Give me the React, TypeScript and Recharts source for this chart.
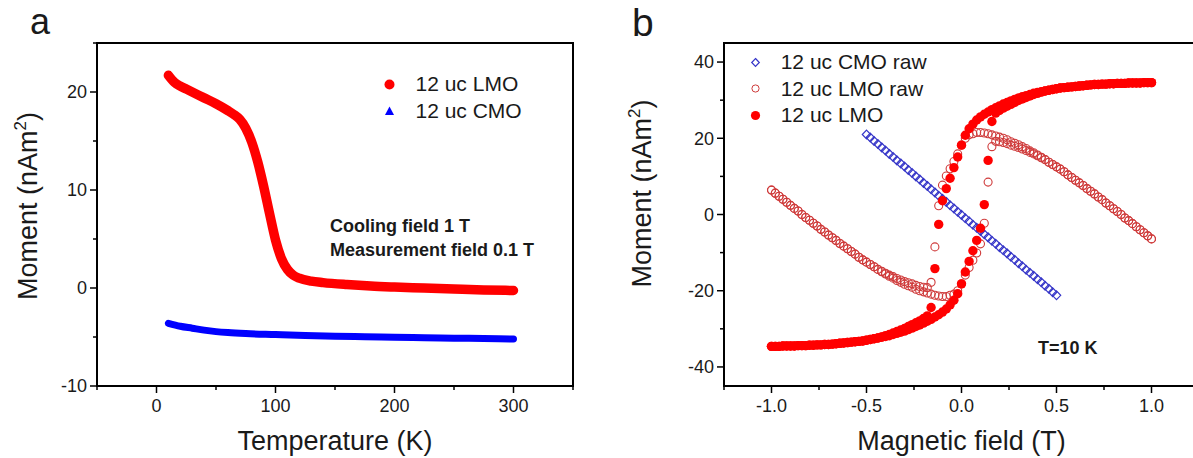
import React from 'react'
import { ComposedChart, ScatterChart, Line, Scatter, XAxis, YAxis, ReferenceArea, Legend, Label } from 'recharts'

// panel a: moment vs temperature (cooling field 1 T, measured in 0.1 T)
const tempLMO = [10, 15, 20, 25, 30, 40, 50, 60, 65, 70, 75, 80, 85, 90, 95, 100, 105, 110, 115, 120, 130, 140, 160, 180, 200, 225, 250, 275, 300]
const momentLMO = [21.7, 21.0, 20.6, 20.3, 20.0, 19.4, 18.8, 18.1, 17.7, 17.2, 16.3, 14.9, 12.9, 10.4, 7.6, 4.9, 3.0, 1.9, 1.3, 1.0, 0.7, 0.55, 0.35, 0.2, 0.1, 0.0, -0.1, -0.2, -0.25]
const tempCMO = [10, 20, 30, 40, 50, 60, 75, 100, 125, 150, 175, 200, 225, 250, 275, 300]
const momentCMO = [-3.6, -3.9, -4.1, -4.3, -4.45, -4.55, -4.65, -4.75, -4.85, -4.92, -4.98, -5.03, -5.08, -5.12, -5.16, -5.2]

const tempTicks = [-50, 0, 50, 100, 150, 200, 250, 300, 350]
const tempLabels = [0, 100, 200, 300]
const momentTicksA = [-10, -5, 0, 5, 10, 15, 20, 25]
const momentLabelsA = [-10, 0, 10, 20]

// panel b: hysteresis loops at 10 K (down = sweep from +1 T, up = sweep from -1 T)
const field = [
  -1.0, -0.98, -0.96, -0.94, -0.92, -0.9, -0.88, -0.86, -0.84, -0.82,
  -0.8, -0.78, -0.76, -0.74, -0.72, -0.7, -0.68, -0.66, -0.64, -0.62,
  -0.6, -0.58, -0.56, -0.54, -0.52, -0.5, -0.48, -0.46, -0.44, -0.42,
  -0.4, -0.38, -0.36, -0.34, -0.32, -0.3, -0.28, -0.26, -0.24, -0.22,
  -0.2, -0.18, -0.16, -0.14, -0.12, -0.1, -0.08, -0.06, -0.04, -0.02,
  0.0, 0.02, 0.04, 0.06, 0.08, 0.1, 0.12, 0.14, 0.16, 0.18,
  0.2, 0.22, 0.24, 0.26, 0.28, 0.3, 0.32, 0.34, 0.36, 0.38,
  0.4, 0.42, 0.44, 0.46, 0.48, 0.5, 0.52, 0.54, 0.56, 0.58,
  0.6, 0.62, 0.64, 0.66, 0.68, 0.7, 0.72, 0.74, 0.76, 0.78,
  0.8, 0.82, 0.84, 0.86, 0.88, 0.9, 0.92, 0.94, 0.96, 0.98,
  1.0,
]
const lmoDown = [
  -34.6, -34.6, -34.6, -34.5, -34.5, -34.5, -34.5, -34.4, -34.4, -34.4,
  -34.3, -34.3, -34.2, -34.2, -34.1, -34.1, -34.0, -33.9, -33.8, -33.7,
  -33.6, -33.5, -33.4, -33.3, -33.2, -33.0, -32.8, -32.6, -32.4, -32.1,
  -31.8, -31.5, -31.1, -30.7, -30.3, -29.9, -29.4, -28.9, -28.4, -27.9,
  -27.3, -26.6, -24.4, -14.2, -2.6, 3.6, 6.8, 9.5, 12.3, 15.1,
  18.2, 20.8, 22.5, 23.7, 24.8, 25.6, 26.3, 26.9, 27.5, 28.0,
  28.5, 29.0, 29.4, 29.8, 30.2, 30.6, 30.9, 31.2, 31.5, 31.8,
  32.0, 32.2, 32.4, 32.6, 32.8, 33.0, 33.2, 33.3, 33.4, 33.5,
  33.6, 33.7, 33.8, 33.9, 34.0, 34.1, 34.1, 34.2, 34.2, 34.3,
  34.3, 34.4, 34.4, 34.4, 34.5, 34.5, 34.5, 34.5, 34.6, 34.6,
  34.6,
]
const lmoUp = [
  -34.6, -34.6, -34.6, -34.5, -34.5, -34.5, -34.5, -34.4, -34.4, -34.4,
  -34.3, -34.3, -34.2, -34.2, -34.1, -34.1, -34.0, -33.9, -33.8, -33.7,
  -33.6, -33.5, -33.4, -33.3, -33.2, -33.0, -32.8, -32.6, -32.4, -32.2,
  -32.0, -31.8, -31.5, -31.2, -30.9, -30.6, -30.2, -29.8, -29.4, -29.0,
  -28.5, -28.0, -27.5, -26.9, -26.3, -25.6, -24.8, -23.7, -22.5, -20.8,
  -18.2, -15.1, -12.3, -9.5, -6.8, -3.6, 2.6, 14.2, 24.4, 26.6,
  27.3, 27.9, 28.4, 28.9, 29.4, 29.9, 30.3, 30.7, 31.1, 31.5,
  31.8, 32.1, 32.4, 32.6, 32.8, 33.0, 33.2, 33.3, 33.4, 33.5,
  33.6, 33.7, 33.8, 33.9, 34.0, 34.1, 34.1, 34.2, 34.2, 34.3,
  34.3, 34.4, 34.4, 34.4, 34.5, 34.5, 34.5, 34.5, 34.6, 34.6,
  34.6,
]
const lmoRawDown = [
  6.4, 5.6, 4.8, 4.0, 3.2, 2.4, 1.6, 0.9, 0.0, -0.8,
  -1.5, -2.3, -3.0, -3.9, -4.6, -5.4, -6.1, -6.8, -7.6, -8.3,
  -9.0, -9.7, -10.4, -11.2, -11.9, -12.5, -13.1, -13.7, -14.4, -14.9,
  -15.4, -15.9, -16.3, -16.8, -17.2, -17.6, -17.9, -18.2, -18.6, -18.9,
  -19.1, -19.2, -17.8, -8.5, 2.3, 7.7, 10.1, 12.0, 13.9, 15.9,
  18.2, 20.0, 20.9, 21.2, 21.5, 21.5, 21.4, 21.2, 20.9, 20.6,
  20.3, 20.0, 19.6, 19.1, 18.7, 18.3, 17.8, 17.3, 16.7, 16.2,
  15.6, 15.0, 14.4, 13.7, 13.1, 12.5, 11.9, 11.2, 10.4, 9.7,
  9.0, 8.3, 7.6, 6.8, 6.1, 5.4, 4.6, 3.9, 3.0, 2.3,
  1.5, 0.8, 0.0, -0.9, -1.6, -2.4, -3.2, -4.0, -4.8, -5.6,
  -6.4,
]
const lmoRawUp = [
  6.4, 5.6, 4.8, 4.0, 3.2, 2.4, 1.6, 0.9, 0.0, -0.8,
  -1.5, -2.3, -3.0, -3.9, -4.6, -5.4, -6.1, -6.8, -7.6, -8.3,
  -9.0, -9.7, -10.4, -11.2, -11.9, -12.5, -13.1, -13.7, -14.4, -15.0,
  -15.6, -16.2, -16.7, -17.3, -17.8, -18.3, -18.7, -19.1, -19.6, -20.0,
  -20.3, -20.6, -20.9, -21.2, -21.4, -21.5, -21.5, -21.2, -20.9, -20.0,
  -18.2, -15.9, -13.9, -12.0, -10.1, -7.7, -2.3, 8.5, 17.8, 19.2,
  19.1, 18.9, 18.6, 18.2, 17.9, 17.6, 17.2, 16.8, 16.3, 15.9,
  15.4, 14.9, 14.4, 13.7, 13.1, 12.5, 11.9, 11.2, 10.4, 9.7,
  9.0, 8.3, 7.6, 6.8, 6.1, 5.4, 4.6, 3.9, 3.0, 2.3,
  1.5, 0.8, 0.0, -0.9, -1.6, -2.4, -3.2, -4.0, -4.8, -5.6,
  -6.4,
]
const cmoField = [
  -0.5, -0.48, -0.46, -0.44, -0.42, -0.4, -0.38, -0.36, -0.34, -0.32,
  -0.3, -0.28, -0.26, -0.24, -0.22, -0.2, -0.18, -0.16, -0.14, -0.12,
  -0.1, -0.08, -0.06, -0.04, -0.02, 0.0, 0.02, 0.04, 0.06, 0.08,
  0.1, 0.12, 0.14, 0.16, 0.18, 0.2, 0.22, 0.24, 0.26, 0.28,
  0.3, 0.32, 0.34, 0.36, 0.38, 0.4, 0.42, 0.44, 0.46, 0.48,
  0.5,
]
const cmoRaw = [
  21.0, 20.2, 19.3, 18.5, 17.6, 16.8, 15.9, 15.1, 14.2, 13.4,
  12.6, 11.7, 10.9, 10.0, 9.2, 8.3, 7.5, 6.6, 5.8, 4.9,
  4.1, 3.3, 2.4, 1.6, 0.7, -0.1, -1.0, -1.8, -2.7, -3.5,
  -4.3, -5.2, -6.0, -6.9, -7.7, -8.6, -9.4, -10.2, -11.1, -11.9,
  -12.8, -13.6, -14.5, -15.3, -16.1, -17.0, -17.8, -18.7, -19.5, -20.4,
  -21.2,
]

const fieldTicks = [-1.25, -1, -0.75, -0.5, -0.25, 0, 0.25, 0.5, 0.75, 1, 1.25]
const fieldLabels = [-1, -0.5, 0, 0.5, 1]
const momentTicksB = [-40, -30, -20, -10, 0, 10, 20, 30, 40]
const momentLabelsB = [-40, -20, 0, 20, 40]

const legendA = ['12 uc LMO', '12 uc CMO']
const legendB = ['12 uc CMO raw', '12 uc LMO raw', '12 uc LMO']

const FONT = '"Liberation Sans", Arial, Helvetica, sans-serif'
const INK = '#1a1a1a'
const RED = '#ff0000'
const BLUE = '#0000ff'
const RAW_RED = '#cf3b3b'
const RAW_BLUE = '#3535c8'

const pairs = (xs: number[], ys: number[], key: string) => xs.map((x, i) => ({ [key]: x, m: ys[i] }))

function BottomTick({ x, y, payload, labels, digits }: any) {
  const v = payload.value
  const major = labels.includes(v)
  return (
    <g>
      <line x1={x} y1={y} x2={x} y2={y + (major ? 7 : 4)} stroke="#000" strokeWidth={1.5} />
      {major && (
        <text x={x} y={y + 26} textAnchor="middle" fontSize={18} fontFamily={FONT} fill={INK}>
          {digits ? v.toFixed(digits) : v}
        </text>
      )}
    </g>
  )
}

function LeftTick({ x, y, payload, labels }: any) {
  const v = payload.value
  const major = labels.includes(v)
  return (
    <g>
      <line x1={x} y1={y} x2={x - (major ? 7 : 4)} y2={y} stroke="#000" strokeWidth={1.5} />
      {major && (
        <text x={x - 10} y={y + 6.3} textAnchor="end" fontSize={18} fontFamily={FONT} fill={INK}>
          {v}
        </text>
      )}
    </g>
  )
}

const xTitle = (text: string) => (props: any) => {
  const { x, y, width } = props.viewBox
  return (
    <text x={x + width / 2} y={y + 64} textAnchor="middle" fontSize={27} fontFamily={FONT} fill={INK}>
      {text}
    </text>
  )
}

const momentTitle = (dx: number, lift: number) => (props: any) => {
  const { x, y, height } = props.viewBox
  const cx = x + dx
  const cy = y + height / 2 - lift
  return (
    <text transform={`rotate(-90 ${cx} ${cy})`} x={cx} y={cy} dy="0.36em" textAnchor="middle" fontSize={27} fontFamily={FONT} fill={INK}>
      Moment (nAm<tspan dy={-11} fontSize={17}>2</tspan><tspan dy={11}>)</tspan>
    </text>
  )
}

function LegendBox({ names, icons, rowHeight, gap }: any) {
  return (
    <div style={{ fontFamily: FONT, fontSize: 21, color: INK }}>
      {names.map((name: string, i: number) => (
        <div key={name} style={{ display: 'flex', alignItems: 'center', height: rowHeight, whiteSpace: 'nowrap' }}>
          <svg width={19} height={19} style={{ display: 'block' }}>{icons[i]}</svg>
          <span style={{ marginLeft: gap }}>{name}</span>
        </div>
      ))}
    </div>
  )
}

const filledDot = (p: any) => <circle cx={p.cx} cy={p.cy} r={4.7} fill={RED} />
const openDot = (p: any) => <circle cx={p.cx} cy={p.cy} r={4} fill="none" stroke={RAW_RED} strokeWidth={1.1} />
const openDiamond = (p: any) => (
  <path d={`M${p.cx},${p.cy - 4.4}L${p.cx + 4.2},${p.cy}L${p.cx},${p.cy + 4.4}L${p.cx - 4.2},${p.cy}Z`} fill="none" stroke={RAW_BLUE} strokeWidth={1.2} />
)

function PanelA() {
  const lmo = pairs(tempLMO, momentLMO, 't')
  const cmo = pairs(tempCMO, momentCMO, 't')
  return (
    <ComposedChart width={600} height={458} margin={{ top: 43, right: 27, bottom: 0, left: 0 }}>
      <XAxis
        type="number"
        dataKey="t"
        domain={[-50, 350]}
        ticks={tempTicks}
        interval={0}
        height={72}
        axisLine={false}
        tickLine={false}
        tickSize={0}
        tickMargin={0}
        tick={(p: any) => <BottomTick {...p} labels={tempLabels} />}
      >
        <Label content={xTitle('Temperature (K)')} />
      </XAxis>
      <YAxis
        type="number"
        dataKey="m"
        domain={[-10, 25]}
        ticks={momentTicksA}
        interval={0}
        width={97}
        axisLine={false}
        tickLine={false}
        tickSize={0}
        tickMargin={0}
        tick={(p: any) => <LeftTick {...p} labels={momentLabelsA} />}
      >
        <Label content={momentTitle(27.7, 8.5)} />
      </YAxis>
      <Line data={cmo} dataKey="m" type="monotone" stroke={BLUE} strokeWidth={7} strokeLinecap="round" dot={false} activeDot={false} isAnimationActive={false} />
      <Line data={lmo} dataKey="m" type="monotone" stroke={RED} strokeWidth={9.5} strokeLinecap="round" strokeLinejoin="round" dot={false} activeDot={false} isAnimationActive={false} />
      <ReferenceArea x1={-50} x2={350} y1={-10} y2={25} fill="none" stroke="#000" strokeWidth={2} />
      <Legend
        layout="vertical"
        align="center"
        verticalAlign="middle"
        wrapperStyle={{ left: 380, top: 70.5, width: 190 }}
        content={() => (
          <LegendBox
            names={legendA}
            rowHeight={27}
            gap={16.5}
            icons={[
              <circle key="c" cx={9.5} cy={9.5} r={5} fill={RED} />,
              <path key="t" d="M9.5,4.5L14,13L5,13Z" fill={BLUE} />,
            ]}
          />
        )}
      />
    </ComposedChart>
  )
}

function PanelB() {
  return (
    <ScatterChart width={600} height={458} margin={{ top: 43, right: 1, bottom: 0, left: 0 }}>
      <XAxis
        type="number"
        dataKey="h"
        domain={[-1.25, 1.25]}
        ticks={fieldTicks}
        interval={0}
        height={72}
        axisLine={false}
        tickLine={false}
        tickSize={0}
        tickMargin={0}
        tick={(p: any) => <BottomTick {...p} labels={fieldLabels} digits={1} />}
      >
        <Label content={xTitle('Magnetic field (T)')} />
      </XAxis>
      <YAxis
        type="number"
        dataKey="m"
        domain={[-45, 45]}
        ticks={momentTicksB}
        interval={0}
        width={124}
        axisLine={false}
        tickLine={false}
        tickSize={0}
        tickMargin={0}
        tick={(p: any) => <LeftTick {...p} labels={momentLabelsB} />}
      >
        <Label content={momentTitle(41, 21)} />
      </YAxis>
      <Scatter data={pairs(cmoField, cmoRaw, 'h')} shape={openDiamond} isAnimationActive={false} />
      <Scatter data={pairs(field, lmoRawDown, 'h')} shape={openDot} isAnimationActive={false} />
      <Scatter data={pairs(field, lmoRawUp, 'h')} shape={openDot} isAnimationActive={false} />
      <Scatter data={pairs(field, lmoDown, 'h')} shape={filledDot} isAnimationActive={false} />
      <Scatter data={pairs(field, lmoUp, 'h')} shape={filledDot} isAnimationActive={false} />
      <ReferenceArea x1={-1.25} x2={1.25} y1={-45} y2={45} fill="none" stroke="#000" strokeWidth={2} />
      <Legend
        layout="vertical"
        align="center"
        verticalAlign="middle"
        wrapperStyle={{ left: 145.5, top: 49, width: 200 }}
        content={() => (
          <LegendBox
            names={legendB}
            rowHeight={26.5}
            gap={16.2}
            icons={[
              <path key="d" d="M9.5,5.5L13.3,9.5L9.5,13.5L5.7,9.5Z" fill="none" stroke={RAW_BLUE} strokeWidth={1.2} />,
              <circle key="o" cx={9.5} cy={9.5} r={3.6} fill="none" stroke={RAW_RED} strokeWidth={1} />,
              <circle key="f" cx={9.5} cy={9.5} r={4.6} fill={RED} />,
            ]}
          />
        )}
      />
    </ScatterChart>
  )
}

const note: React.CSSProperties = { position: 'absolute', whiteSpace: 'nowrap', fontFamily: FONT, color: INK }

export default function App() {
  return (
    <div style={{ position: 'absolute', left: 0, top: 0, width: 1193, height: 458, overflow: 'hidden', background: '#fff' }}>
      <div style={{ position: 'absolute', left: 0, top: 0 }}>
        <PanelA />
      </div>
      <div style={{ position: 'absolute', left: 600, top: 0 }}>
        <PanelB />
      </div>
      <div style={{ ...note, left: 30, top: 0.5, fontSize: 36, lineHeight: 'normal' }}>a</div>
      <div style={{ ...note, left: 632, top: 0.5, fontSize: 39, lineHeight: 'normal' }}>b</div>
      <div style={{ ...note, left: 330, top: 215, fontSize: 18, fontWeight: 700, lineHeight: '23.5px' }}>
        Cooling field 1 T
        <br />
        Measurement field 0.1 T
      </div>
      <div style={{ ...note, left: 1038, top: 339.3, fontSize: 18, fontWeight: 700, lineHeight: 1 }}>T=10 K</div>
    </div>
  )
}
